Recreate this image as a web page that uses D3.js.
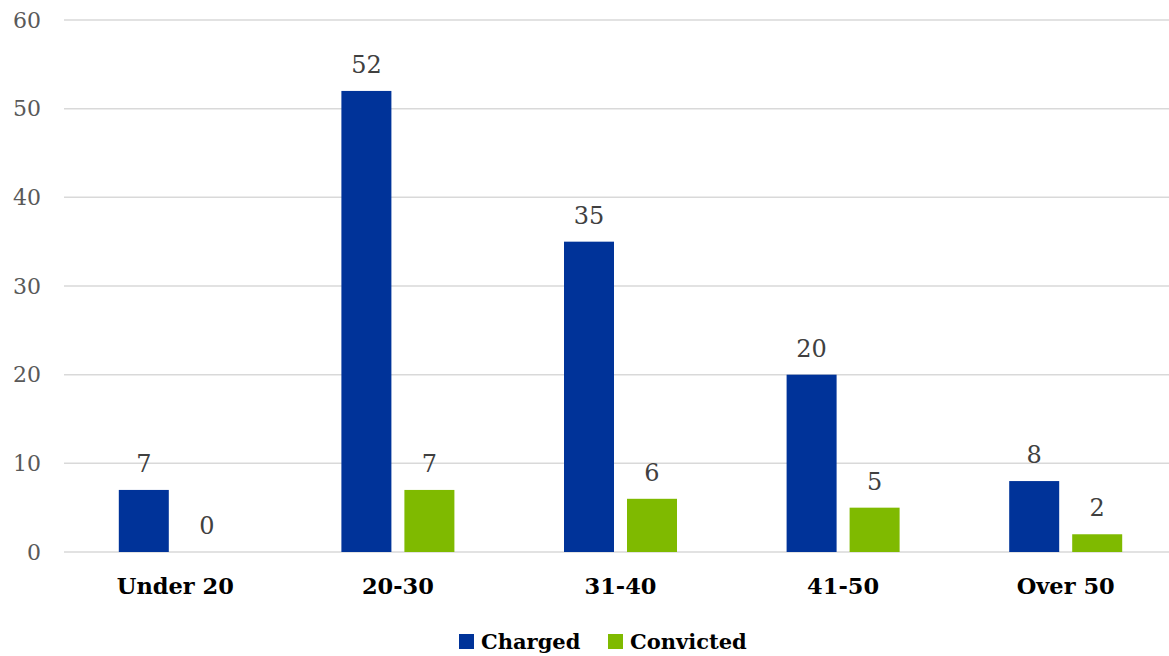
<!DOCTYPE html>
<html><head><meta charset="utf-8">
<script src="https://cdn.jsdelivr.net/npm/d3@7"></script>
<style>body{margin:0;background:#fff}svg{display:block}</style>
</head><body>
<svg id="c" width="1169" height="656"></svg>
<script>
const categories = ["Under 20", "20-30", "31-40", "41-50", "Over 50"];
const seriesNames = ["Charged", "Convicted"];
const charged = [7, 52, 35, 20, 8];
const convicted = [0, 7, 6, 5, 2];
const yTicks = [0, 10, 20, 30, 40, 50, 60];
const colors = ["#003399", "#7FBA00"];

const svg = d3.select("#c");
const font = "'DejaVu Serif', serif";
const x = d3.scaleBand().domain(categories).range([64, 1177]);
const y = d3.scaleLinear().domain([0, 60]).range([552, 20]);
const inner = d3.scaleOrdinal().domain(seriesNames).range([-56.5, 6.5]);
const barW = 50;
const data = [charged, convicted];

// gridlines
svg.append("g").selectAll("line").data(yTicks).join("line")
  .attr("x1", 64).attr("x2", 1169)
  .attr("y1", d => y(d)).attr("y2", d => y(d))
  .attr("stroke", "#d9d9d9").attr("stroke-width", 1.5);

// y axis
const yAxis = d3.axisLeft(y).tickValues(yTicks).tickSize(0).tickPadding(0);
const ya = svg.append("g").attr("transform", "translate(41,0)").call(yAxis);
ya.select(".domain").remove();
ya.selectAll("text").attr("font-family", font).attr("font-size", 22).attr("fill", "#595959");

// x axis
const xAxis = d3.axisBottom(x).tickSize(0).tickPadding(0);
const xa = svg.append("g").attr("transform", "translate(0,578)").call(xAxis);
xa.select(".domain").remove();
xa.selectAll("text").attr("font-family", font).attr("font-size", 22.5).attr("font-weight", "bold").attr("fill", "#000");

// bars
seriesNames.forEach((s, si) => {
  const g = svg.append("g");
  g.selectAll("rect").data(categories).join("rect")
    .attr("x", c => x(c) + x.bandwidth() / 2 + inner(s))
    .attr("width", barW)
    .attr("y", (c, i) => y(data[si][i]))
    .attr("height", (c, i) => y(0) - y(data[si][i]))
    .attr("fill", colors[si]);
  g.selectAll("text").data(categories).join("text")
    .attr("x", c => x(c) + x.bandwidth() / 2 + inner(s) + barW / 2)
    .attr("y", (c, i) => y(data[si][i]) - 18)
    .attr("text-anchor", "middle")
    .attr("font-family", font).attr("font-size", 24).attr("fill", "#404040")
    .text((c, i) => data[si][i]);
});

// legend
const legendX = [459, 608];
seriesNames.forEach((s, i) => {
  svg.append("rect").attr("x", legendX[i]).attr("y", 634).attr("width", 15).attr("height", 15).attr("fill", colors[i]);
  svg.append("text").attr("x", legendX[i] + 22).attr("y", 649)
    .attr("font-family", font).attr("font-size", 21).attr("font-weight", "bold").attr("fill", "#000").text(s);
});
</script>
</body></html>
